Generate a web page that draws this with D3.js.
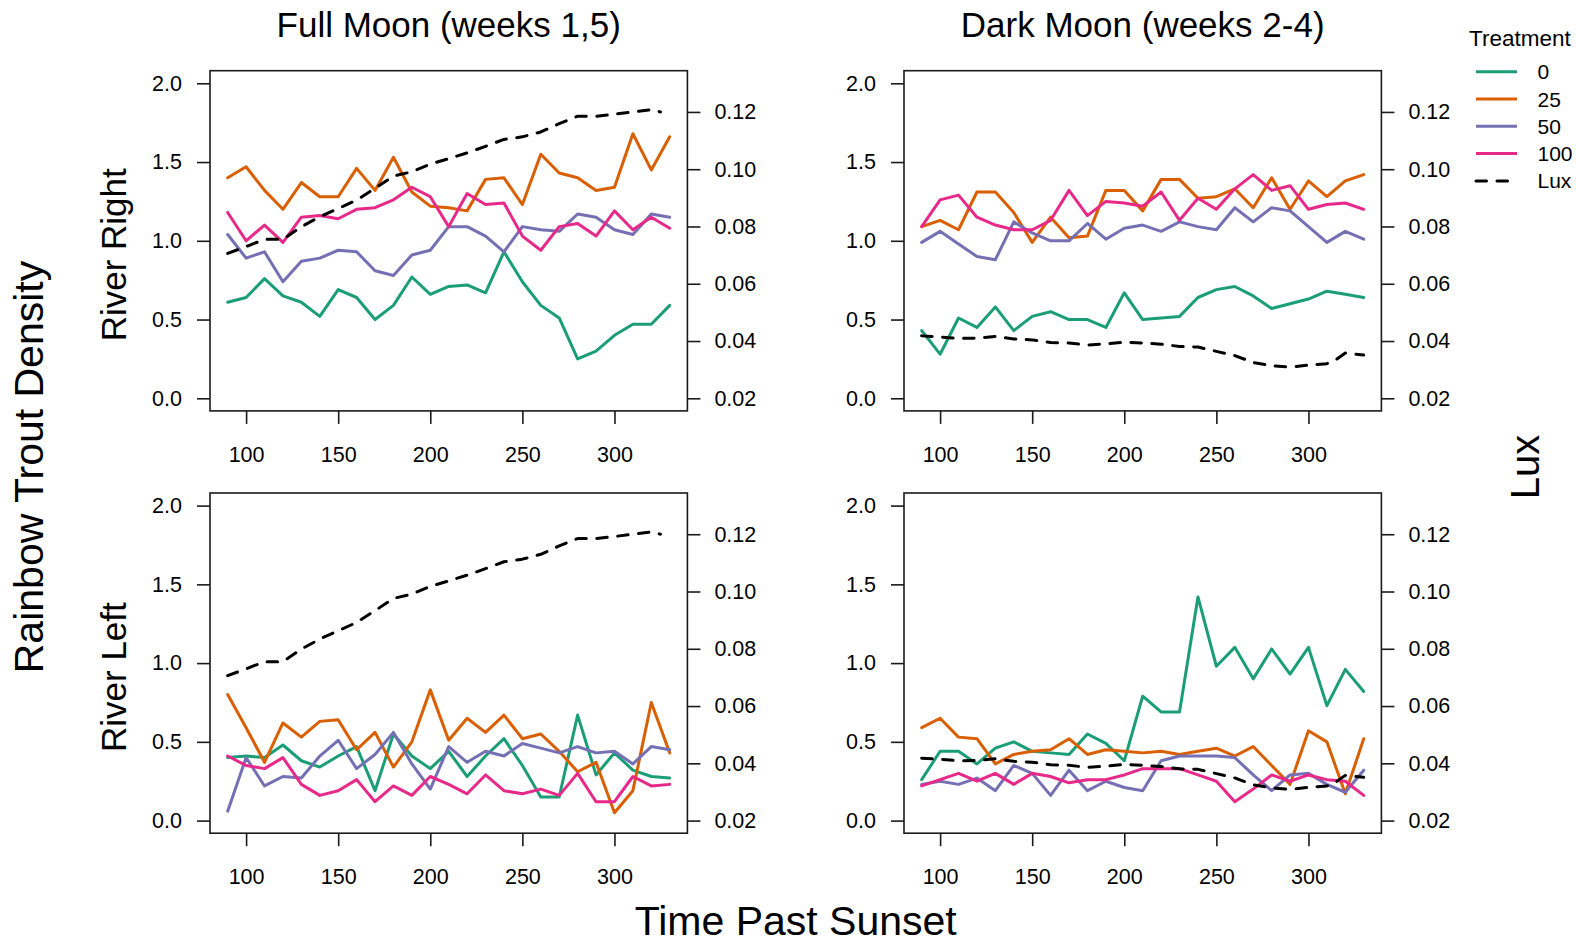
<!DOCTYPE html>
<html>
<head>
<meta charset="utf-8">
<script src="https://cdn.jsdelivr.net/npm/d3@7/dist/d3.min.js"></script>
<style>
  html, body { margin: 0; padding: 0; background: #fff; }
  svg { display: block; font-family: "Liberation Sans", Arial, Helvetica, sans-serif; }
</style>
</head>
<body>
<svg id="chart" width="1576" height="943"></svg>
<script>
// Minutes past sunset at which trout density was sampled
const minutes = [90, 100, 110, 120, 130, 140, 150, 160, 170, 180, 190, 200, 210,
                 220, 230, 240, 250, 260, 270, 280, 290, 300, 310, 320, 330];

// Treatment levels and their colours
const treatments = ["0", "25", "50", "100"];
const treatmentColors = ["#1B9E77", "#D95F02", "#7570B3", "#E7298A"];

// Full moon, river right
const fullRight0   = [0.61, 0.64, 0.76, 0.65, 0.61, 0.52, 0.69, 0.64, 0.50, 0.59, 0.77, 0.66, 0.71,
                      0.72, 0.67, 0.93, 0.74, 0.59, 0.51, 0.25, 0.30, 0.40, 0.47, 0.47, 0.59];
const fullRight25  = [1.40, 1.47, 1.32, 1.20, 1.37, 1.28, 1.28, 1.46, 1.32, 1.53, 1.31, 1.22, 1.21,
                      1.19, 1.39, 1.40, 1.23, 1.55, 1.43, 1.40, 1.32, 1.34, 1.68, 1.45, 1.66];
const fullRight50  = [1.04, 0.89, 0.93, 0.74, 0.87, 0.89, 0.94, 0.93, 0.81, 0.78, 0.91, 0.94, 1.09,
                      1.09, 1.03, 0.93, 1.09, 1.07, 1.06, 1.17, 1.15, 1.07, 1.04, 1.17, 1.15];
const fullRight100 = [1.18, 1.00, 1.10, 0.99, 1.15, 1.16, 1.14, 1.20, 1.21, 1.26, 1.34, 1.28, 1.09,
                      1.30, 1.23, 1.24, 1.03, 0.94, 1.09, 1.11, 1.03, 1.19, 1.07, 1.15, 1.08];

// Dark moon, river right
const darkRight0   = [0.43, 0.28, 0.51, 0.45, 0.58, 0.43, 0.52, 0.55, 0.50, 0.50, 0.45, 0.67, 0.50,
                      0.51, 0.52, 0.64, 0.69, 0.71, 0.65, 0.57, 0.60, 0.63, 0.68, 0.66, 0.64];
const darkRight25  = [1.09, 1.13, 1.07, 1.31, 1.31, 1.18, 0.99, 1.15, 1.02, 1.03, 1.32, 1.32, 1.19,
                      1.39, 1.39, 1.27, 1.28, 1.33, 1.21, 1.40, 1.20, 1.38, 1.28, 1.38, 1.42];
const darkRight50  = [0.99, 1.06, 0.98, 0.90, 0.88, 1.12, 1.05, 1.00, 1.00, 1.11, 1.01, 1.08, 1.10,
                      1.06, 1.12, 1.09, 1.07, 1.21, 1.12, 1.21, 1.19, 1.09, 0.99, 1.06, 1.01];
const darkRight100 = [1.09, 1.26, 1.29, 1.15, 1.10, 1.07, 1.07, 1.13, 1.32, 1.16, 1.25, 1.24, 1.22,
                      1.31, 1.13, 1.27, 1.20, 1.33, 1.42, 1.32, 1.35, 1.20, 1.23, 1.24, 1.20];

// Full moon, river left
const fullLeft0    = [0.40, 0.41, 0.40, 0.48, 0.38, 0.34, 0.41, 0.47, 0.19, 0.55, 0.41, 0.33, 0.44,
                      0.28, 0.41, 0.52, 0.35, 0.15, 0.15, 0.67, 0.29, 0.43, 0.32, 0.28, 0.27];
const fullLeft25   = [0.80, 0.59, 0.37, 0.62, 0.53, 0.63, 0.64, 0.45, 0.56, 0.34, 0.50, 0.83, 0.51,
                      0.65, 0.56, 0.67, 0.52, 0.55, 0.44, 0.31, 0.37, 0.05, 0.19, 0.75, 0.43];
const fullLeft50   = [0.06, 0.40, 0.22, 0.28, 0.27, 0.41, 0.51, 0.33, 0.42, 0.56, 0.36, 0.20, 0.47,
                      0.37, 0.44, 0.41, 0.49, 0.46, 0.43, 0.47, 0.43, 0.44, 0.36, 0.47, 0.45];
const fullLeft100  = [0.41, 0.35, 0.33, 0.40, 0.23, 0.16, 0.19, 0.26, 0.12, 0.22, 0.16, 0.28, 0.23,
                      0.17, 0.29, 0.19, 0.17, 0.20, 0.16, 0.30, 0.12, 0.12, 0.28, 0.22, 0.23];

// Dark moon, river left
const darkLeft0    = [0.26, 0.44, 0.44, 0.36, 0.46, 0.50, 0.44, 0.43, 0.42, 0.55, 0.49, 0.38, 0.79,
                      0.69, 0.69, 1.42, 0.98, 1.10, 0.90, 1.09, 0.93, 1.10, 0.73, 0.96, 0.82];
const darkLeft25   = [0.59, 0.65, 0.53, 0.52, 0.36, 0.42, 0.44, 0.45, 0.52, 0.42, 0.45, 0.44, 0.43,
                      0.44, 0.42, 0.44, 0.46, 0.41, 0.47, 0.35, 0.23, 0.57, 0.50, 0.17, 0.52];
const darkLeft50   = [0.23, 0.25, 0.23, 0.27, 0.19, 0.35, 0.30, 0.16, 0.32, 0.19, 0.25, 0.21, 0.19,
                      0.38, 0.41, 0.41, 0.41, 0.40, 0.29, 0.19, 0.29, 0.30, 0.23, 0.18, 0.32];
const darkLeft100  = [0.22, 0.26, 0.30, 0.25, 0.30, 0.23, 0.30, 0.28, 0.24, 0.26, 0.26, 0.29, 0.33,
                      0.33, 0.33, 0.29, 0.25, 0.12, 0.20, 0.29, 0.25, 0.29, 0.26, 0.25, 0.16];

// Light level (lux) over the night, one record per moon phase
const luxFullTime = [90, 100, 110, 120, 130, 140, 150, 160, 170, 180, 190, 200, 210,
                     220, 230, 240, 250, 260, 270, 280, 290, 300, 310, 320, 325];
const luxFull     = [0.0706, 0.0730, 0.0755, 0.0755, 0.0799, 0.0834, 0.0863, 0.0892, 0.0933, 0.0976,
                     0.0991, 0.1018, 0.1037, 0.1057, 0.1080, 0.1104, 0.1113, 0.1130, 0.1159, 0.1185,
                     0.1185, 0.1192, 0.1200, 0.1208, 0.1200];
const luxDarkTime = [90, 100, 110, 120, 130, 140, 150, 160, 170, 180, 190, 200, 210,
                     220, 230, 240, 250, 260, 270, 280, 290, 300, 310, 315, 320, 330];
const luxDark     = [0.0418, 0.0414, 0.0409, 0.0410, 0.0416, 0.0407, 0.0404, 0.0395, 0.0393, 0.0386,
                     0.0390, 0.0396, 0.0393, 0.0389, 0.0381, 0.0379, 0.0364, 0.0349, 0.0325, 0.0314,
                     0.0309, 0.0316, 0.0321, 0.0335, 0.0358, 0.0351];

// Axis ticks
const xTicks = [100, 150, 200, 250, 300];
const densityTicks = [0.0, 0.5, 1.0, 1.5, 2.0];
const luxTicks = [0.02, 0.04, 0.06, 0.08, 0.10, 0.12];

const columnTitles = ["Full Moon (weeks 1,5)", "Dark Moon (weeks 2-4)"];
const rowTitles = ["River Right", "River Left"];

const panels = [
  { row: 0, col: 0, series: [fullRight0, fullRight25, fullRight50, fullRight100], luxT: luxFullTime, lux: luxFull },
  { row: 0, col: 1, series: [darkRight0, darkRight25, darkRight50, darkRight100], luxT: luxDarkTime, lux: luxDark },
  { row: 1, col: 0, series: [fullLeft0, fullLeft25, fullLeft50, fullLeft100], luxT: luxFullTime, lux: luxFull },
  { row: 1, col: 1, series: [darkLeft0, darkLeft25, darkLeft50, darkLeft100], luxT: luxDarkTime, lux: luxDark }
];

// Layout of the 2x2 grid of plot regions
const colX = [210, 904];
const rowY = [70.7, 493];
const plotW = 477.4;
const plotH = 340.2;
const tickLen = 13;
const tickFont = 21.5;

const svg = d3.select("#chart");

panels.forEach(p => {
  const x0 = colX[p.col], y0 = rowY[p.row];
  const x = d3.scaleLinear().domain([80.4, 339.6]).range([x0, x0 + plotW]);
  const y = d3.scaleLinear().domain([-0.08, 2.08]).range([y0 + plotH, y0]);
  const y2 = d3.scaleLinear().domain([0.0156, 0.1344]).range([y0 + plotH, y0]);

  const g = svg.append("g");

  // Treatment lines
  p.series.forEach((vals, i) => {
    const line = d3.line().x((d, j) => x(minutes[j])).y(d => y(d));
    g.append("path")
      .datum(vals)
      .attr("d", line)
      .attr("fill", "none")
      .attr("stroke", treatmentColors[i])
      .attr("stroke-width", 3)
      .attr("stroke-linejoin", "round")
      .attr("stroke-linecap", "round");
  });

  // Lux on the secondary axis
  const luxLine = d3.line().x((d, j) => x(p.luxT[j])).y(d => y2(d));
  g.append("path")
    .datum(p.lux)
    .attr("d", luxLine)
    .attr("fill", "none")
    .attr("stroke", "#000")
    .attr("stroke-width", 3)
    .attr("stroke-dasharray", "10.5,10.5")
    .attr("stroke-linejoin", "round")
    .attr("stroke-linecap", "round");

  // Frame
  g.append("rect")
    .attr("x", x0).attr("y", y0)
    .attr("width", plotW).attr("height", plotH)
    .attr("fill", "none").attr("stroke", "#1a1a1a").attr("stroke-width", 1.6);

  // Axes
  const styleAxis = sel => {
    sel.select(".domain").remove();
    sel.selectAll(".tick line").attr("stroke", "#1a1a1a").attr("stroke-width", 1.6);
    sel.selectAll(".tick text").attr("fill", "#000").style("font-size", tickFont + "px")
      .style("font-family", '"Liberation Sans", Arial, Helvetica, sans-serif');
  };

  g.append("g")
    .attr("transform", `translate(${x0},0)`)
    .call(d3.axisLeft(y).tickValues(densityTicks).tickFormat(d3.format(".1f"))
      .tickSize(tickLen).tickPadding(15))
    .call(styleAxis);

  g.append("g")
    .attr("transform", `translate(${x0 + plotW},0)`)
    .call(d3.axisRight(y2).tickValues(luxTicks).tickFormat(d3.format(".2f"))
      .tickSize(tickLen).tickPadding(14))
    .call(styleAxis);

  g.append("g")
    .attr("transform", `translate(0,${y0 + plotH})`)
    .call(d3.axisBottom(x).tickValues(xTicks).tickFormat(d3.format("d"))
      .tickSize(tickLen).tickPadding(22.5))
    .call(styleAxis);
});

// Column titles
columnTitles.forEach((t, i) => {
  svg.append("text")
    .attr("x", colX[i] + plotW / 2).attr("y", 37)
    .attr("text-anchor", "middle")
    .style("font-size", "35px")
    .text(t);
});

// Row titles
rowTitles.forEach((t, i) => {
  const cy = rowY[i] + plotH / 2 + 14;
  svg.append("text")
    .attr("transform", `translate(126,${cy}) rotate(-90)`)
    .attr("text-anchor", "middle")
    .style("font-size", "35px")
    .text(t);
});

// Outer axis titles
svg.append("text")
  .attr("transform", "translate(43,467) rotate(-90)")
  .attr("text-anchor", "middle")
  .style("font-size", "41px")
  .text("Rainbow Trout Density");

svg.append("text")
  .attr("x", (colX[0] + colX[1] + plotW) / 2).attr("y", 935)
  .attr("text-anchor", "middle")
  .style("font-size", "41px")
  .text("Time Past Sunset");

svg.append("text")
  .attr("transform", "translate(1539,467) rotate(-90)")
  .attr("text-anchor", "middle")
  .style("font-size", "40px")
  .text("Lux");

// Legend
const legend = svg.append("g");
legend.append("text")
  .attr("x", 1469).attr("y", 46)
  .style("font-size", "22.5px")
  .text("Treatment");

const legendItems = treatments.map((t, i) => ({ label: t, color: treatmentColors[i], dash: null }))
  .concat([{ label: "Lux", color: "#000", dash: "10.5,10.5" }]);

legendItems.forEach((d, i) => {
  const ly = 71.7 + i * 27.3;
  legend.append("line")
    .attr("x1", 1476).attr("x2", 1517)
    .attr("y1", ly).attr("y2", ly)
    .attr("stroke", d.color)
    .attr("stroke-width", 3)
    .attr("stroke-linecap", d.dash ? "round" : "butt")
    .attr("stroke-dasharray", d.dash);
  legend.append("text")
    .attr("x", 1537.5).attr("y", ly)
    .attr("dy", "0.36em")
    .style("font-size", "21px")
    .text(d.label);
});
</script>
</body>
</html>
